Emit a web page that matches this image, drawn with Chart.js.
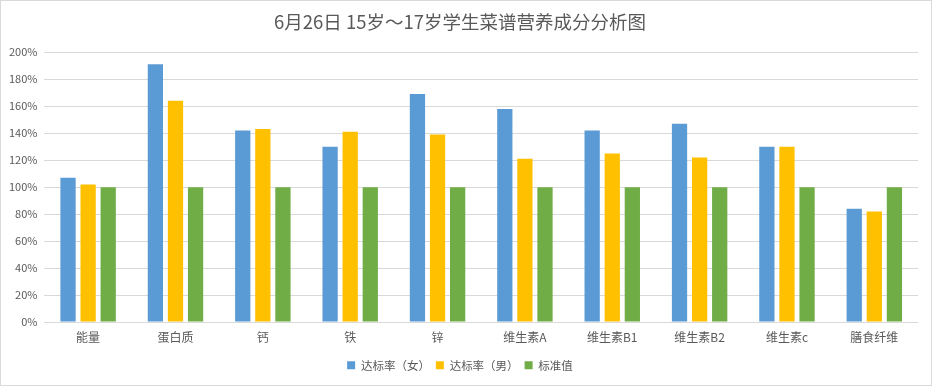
<!DOCTYPE html>
<html lang="zh">
<head>
  <meta charset="UTF-8">
  <title>6月26日 15岁～17岁学生菜谱营养成分分析图</title>
  <script src="https://cdn.jsdelivr.net/npm/chart.js"></script>
  <style>
    html, body { margin: 0; padding: 0; background: #fff; }
    #wrap { position: relative; width: 930px; height: 384px; border: 1px solid #d9d9d9; }
  </style>
</head>
<body>
  <div id="wrap"><canvas id="chart"></canvas></div>

  <script>
    const categories = ['能量', '蛋白质', '钙', '铁', '锌', '维生素A', '维生素B1', '维生素B2', '维生素c', '膳食纤维'];
    const female = [107, 191, 142, 130, 169, 158, 142, 147, 130, 84];
    const male = [102, 164, 143, 141, 139, 121, 125, 122, 130, 82];
    const standard = [100, 100, 100, 100, 100, 100, 100, 100, 100, 100];
    const yTicks = [0, 20, 40, 60, 80, 100, 120, 140, 160, 180, 200];

    const font = "'Noto Sans CJK SC', 'Noto Sans', sans-serif";

    new Chart(document.getElementById('chart'), {
      type: 'bar',
      data: {
        labels: categories,
        datasets: [
          { label: '达标率（女）', data: female, backgroundColor: '#5b9bd5' },
          { label: '达标率（男）', data: male, backgroundColor: '#ffc000' },
          { label: '标准值', data: standard, backgroundColor: '#70ad47' }
        ]
      },
      options: {
        responsive: true,
        maintainAspectRatio: false,
        animation: false,
        datasets: { bar: { categoryPercentage: 0.69, barPercentage: 0.76 } },
        layout: { padding: { left: 1, right: 13, top: 4, bottom: 4 } },
        plugins: {
          title: {
            display: true,
            text: '6月26日 15岁～17岁学生菜谱营养成分分析图',
            color: '#595959',
            font: { family: font, size: 18.5, weight: 'normal' },
            padding: { top: 6, bottom: 19 }
          },
          legend: {
            position: 'bottom',
            labels: {
              color: '#595959',
              font: { family: font, size: 11.5 },
              boxWidth: 8,
              boxHeight: 8,
              padding: 6
            }
          },
          tooltip: { enabled: false }
        },
        scales: {
          x: {
            grid: { display: false },
            border: { display: false },
            ticks: { color: '#595959', font: { family: font, size: 12 }, padding: 0 },
            afterFit: axis => { axis.height += 9; }
          },
          y: {
            min: 0,
            max: 200,
            afterBuildTicks: axis => { axis.ticks = yTicks.map(v => ({ value: v })); },
            grid: { color: '#d9d9d9', lineWidth: 1, drawTicks: false },
            border: { display: false },
            ticks: {
              color: '#595959',
              font: { family: font, size: 11 },
              padding: 7,
              callback: v => v + '%'
            }
          }
        }
      }
    });
  </script>
</body>
</html>
